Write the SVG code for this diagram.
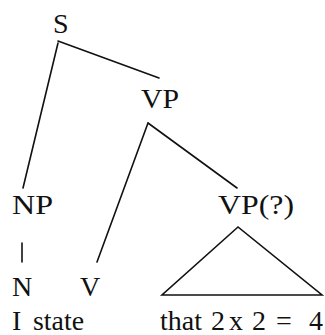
<svg xmlns="http://www.w3.org/2000/svg" width="325" height="335" viewBox="0 0 325 335">
<style>
text{font-family:"Liberation Serif","Times New Roman","DejaVu Serif",serif;font-size:28px;fill:#111}
.e{stroke:#111;stroke-width:1.6;fill:none;stroke-linecap:round}
</style>
<rect width="325" height="335" fill="#fff"/>
<g id="connectors">
<line class="e" x1="58" y1="41" x2="159" y2="78"/>
<line class="e" x1="58" y1="43" x2="23" y2="188"/>
<line class="e" x1="148" y1="123" x2="237" y2="188"/>
<line class="e" x1="148" y1="123" x2="97" y2="262"/>
<line class="e" x1="22" y1="243" x2="22" y2="262"/>
</g>
<g id="S"><text x="53" y="33">S</text></g>
<g id="VP"><text x="141" y="108" textLength="38" lengthAdjust="spacingAndGlyphs">VP</text></g>
<g id="NP"><text x="12" y="214" textLength="41" lengthAdjust="spacingAndGlyphs">NP</text></g>
<g id="VPq"><text x="218" y="214" textLength="76" lengthAdjust="spacingAndGlyphs">VP(?)</text></g>
<g id="N"><text x="12" y="296">N</text></g>
<g id="V"><text x="80" y="296">V</text></g>
<g id="I"><text x="12" y="330">I</text></g>
<g id="state"><text x="33" y="330" textLength="51" lengthAdjust="spacingAndGlyphs">state</text></g>
<g id="that"><text y="330"><tspan x="160">that</tspan><tspan x="211">2</tspan><tspan x="229">x</tspan><tspan x="252">2</tspan><tspan x="276">=</tspan><tspan x="309">4</tspan></text></g>
<g id="triangle"><polygon class="e" points="238,227 162,295 322,295" stroke-linejoin="miter"/></g>
</svg>
